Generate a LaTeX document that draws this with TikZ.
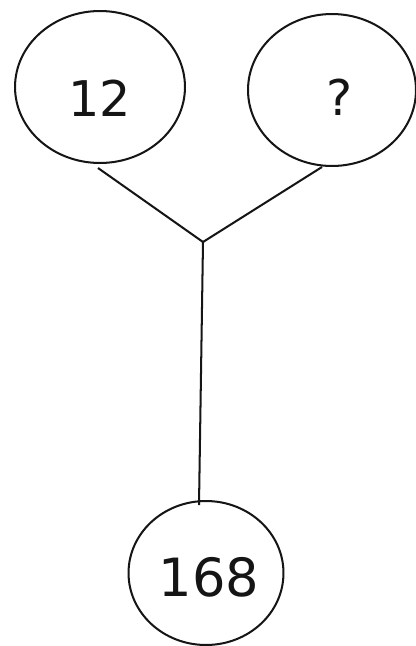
\documentclass[tikz,border=0pt]{standalone}
\usepackage{fontspec}
\setmainfont{DejaVu Sans}
\usepackage{tikz}
\usetikzlibrary{shapes.geometric}

\definecolor{ink}{HTML}{151515}

\tikzset{
  numball/.style={draw=ink, ellipse, line width=1.15pt, inner sep=0pt},
  numtxt/.style={text=ink},
  link/.style={draw=ink, line width=1.15pt}
}

\begin{document}
\begin{tikzpicture}[x=0.02cm, y=-0.02cm]

% frame
\useasboundingbox (0,0) rectangle (416,646);

% factors
\node[numball, minimum width=3.4cm, minimum height=3.04cm] (left) at (100,87) {};
\node[numtxt, font=\fontsize{28}{34}\selectfont] (lefttxt) at (100,98) {12};
\node[numball, minimum width=3.36cm, minimum height=3.04cm] (right) at (332,90) {};
\node[numtxt, font=\fontsize{28}{34}\selectfont] (righttxt) at (340,97) {?};

% product
\node[numball, minimum width=3.1cm, minimum height=2.88cm] (prod) at (206,573) {};
\node[numtxt, font=\fontsize{30}{36}\selectfont] (prodtxt) at (209,577) {168};

% branches
\coordinate (fork) at (203,242);
\draw[link] ([xshift=-0.04cm, yshift=-0.08cm]left.south) -- (fork);
\draw[link] ([xshift=-0.2cm]right.south) -- (fork);
\draw[link] (fork) -- ([xshift=-0.14cm, yshift=-0.1cm]prod.north);

\end{tikzpicture}
\end{document}
